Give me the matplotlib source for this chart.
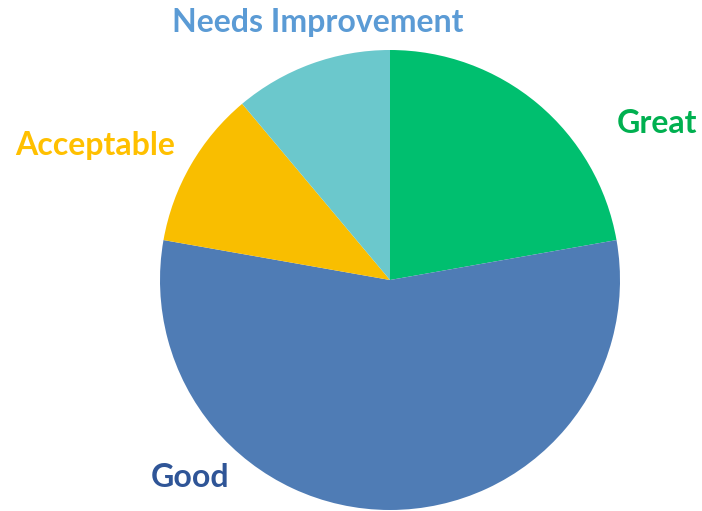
import matplotlib
matplotlib.use("Agg")
import matplotlib.pyplot as plt

# slices, clockwise from 12 o'clock
labels = ["Great", "Good", "Acceptable", "Needs Improvement"]
values = [2, 5, 1, 1]
colors = ["#00BF6F", "#4F7CB5", "#F9BE00", "#6BC8CC"]
label_colors = ["#00B050", "#2F5597", "#FFC000", "#5B9BD5"]
# label centres in pie data units (radius = 1)
label_pos = [(1.162, 0.680), (-0.870, -0.858), (-1.283, 0.584), (-0.313, 1.12)]

W, H = 702, 511
fig = plt.figure(figsize=(W / 100, H / 100), dpi=100)
# pie centre (390, 280) px from top-left, radius 230 px
cx, cy, r = 390, 280, 230
ax = fig.add_axes([(cx - r) / W, (H - cy - r) / H, 2 * r / W, 2 * r / H])
ax.pie(values, colors=colors, startangle=90, counterclock=False, radius=1,
       wedgeprops=dict(linewidth=0))
ax.set_xlim(-1, 1)
ax.set_ylim(-1, 1)
ax.set_aspect("equal")
ax.axis("off")

for lab, c, (x, y) in zip(labels, label_colors, label_pos):
    ax.text(x, y, lab, color=c, fontsize=23, fontweight="bold", family="Lato",
            ha="center", va="center", clip_on=False)

fig.savefig("out.png", dpi=100)
